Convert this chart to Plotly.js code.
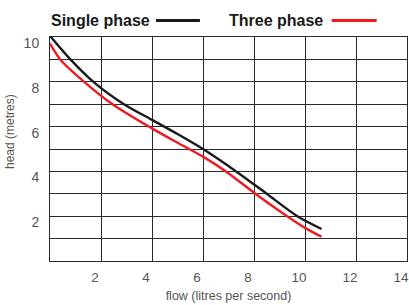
<!DOCTYPE html>
<html>
<head>
<meta charset="utf-8">
<script src="https://cdn.plot.ly/plotly-3.0.1.min.js"></script>
<style>html,body{margin:0;padding:0;background:#fff;}#chart{width:409px;height:305px;}</style>
</head>
<body>
<div id="chart"></div>
<script>
// Data
const singleFlow = [0, 0.8, 1.7, 2.9, 4, 5, 6, 7.3, 8.5, 9.7, 10.65];
const singleHead = [10.05, 9, 8, 7, 6.3, 5.67, 5.0, 4, 3, 2, 1.43];
const threeFlow = [0, 0.4, 1.34, 2.45, 4, 5, 6, 6.9, 8, 9.3, 10, 10.65];
const threeHead = [9.7, 9.0, 8, 7, 5.92, 5.28, 4.66, 4, 3.05, 2, 1.48, 1.08];

const xTickVals = [0, 2, 4, 6, 8, 10, 12, 14];
const xTickText = ['', '2', '4', '6', '8', '10', '12', '14'];
const yTickVals = [0, 1, 2, 3, 4, 5, 6, 7, 8, 9, 10];
const yTickText = ['', '', '2', '', '4', '', '6', '', '8', '', '10'];

const seriesNames = ['Single phase', 'Three phase'];
const seriesColors = ['#1a1a1a', '#ed1c24'];

const gridColor = '#2a2a2a';
const labelColor = '#555555';
const font = 'Liberation Sans, Arial, sans-serif';

const traces = [
  {x: singleFlow, y: singleHead, name: seriesNames[0], mode: 'lines',
   line: {color: seriesColors[0], width: 2.4, shape: 'spline', smoothing: 0.8}},
  {x: threeFlow, y: threeHead, name: seriesNames[1], mode: 'lines',
   line: {color: seriesColors[1], width: 2.4, shape: 'spline', smoothing: 0.8}}
];

const layout = {
  width: 409, height: 305,
  margin: {l: 50, r: 2, t: 37, b: 44, pad: 0},
  paper_bgcolor: '#ffffff', plot_bgcolor: '#ffffff',
  showlegend: false,
  dragmode: false,
  font: {family: font, color: labelColor},
  xaxis: {
    range: [0, 14], tickvals: xTickVals, ticktext: xTickText,
    showgrid: true, gridcolor: gridColor, gridwidth: 1,
    showline: true, mirror: true, linecolor: gridColor, linewidth: 1,
    zeroline: false, ticks: '', ticklabelstandoff: 4, ticklabelshift: -6,
    ticklabeloverflow: 'allow',
    tickfont: {size: 13.5, color: labelColor, family: font},
    title: {text: 'flow (litres per second)', font: {size: 12.5, color: labelColor, family: font}, standoff: 7},
    fixedrange: true
  },
  yaxis: {
    range: [0, 10], tickvals: yTickVals, ticktext: yTickText,
    showgrid: true, gridcolor: gridColor, gridwidth: 1,
    showline: true, mirror: true, linecolor: gridColor, linewidth: 1,
    zeroline: false, ticks: '', ticklabelstandoff: 7, ticklabelshift: 6,
    ticklabeloverflow: 'allow',
    tickfont: {size: 14, color: labelColor, family: font},
    fixedrange: true
  },
  annotations: [
    {xref: 'paper', yref: 'paper', x: -0.112, y: 0.576, text: 'head (metres)', textangle: -90,
     showarrow: false, font: {size: 12, color: labelColor, family: font}, xanchor: 'center', yanchor: 'middle'},
    {xref: 'paper', yref: 'paper', x: -0.002, y: 1.0737, text: '<b>' + seriesNames[0] + '</b>', showarrow: false,
     xanchor: 'left', yanchor: 'middle', font: {size: 16, color: '#1a1a1a', family: font}},
    {xref: 'paper', yref: 'paper', x: 0.4964, y: 1.0737, text: '<b>' + seriesNames[1] + '</b>', showarrow: false,
     xanchor: 'left', yanchor: 'middle', font: {size: 16, color: '#1a1a1a', family: font}}
  ],
  shapes: [
    {type: 'line', xref: 'paper', yref: 'paper', x0: 0.297, x1: 0.42, y0: 1.0737, y1: 1.0737,
     line: {color: seriesColors[0], width: 2.8}},
    {type: 'line', xref: 'paper', yref: 'paper', x0: 0.789, x1: 0.915, y0: 1.0737, y1: 1.0737,
     line: {color: seriesColors[1], width: 2.8}}
  ]
};

Plotly.newPlot('chart', traces, layout, {displayModeBar: false});
</script>
</body>
</html>
